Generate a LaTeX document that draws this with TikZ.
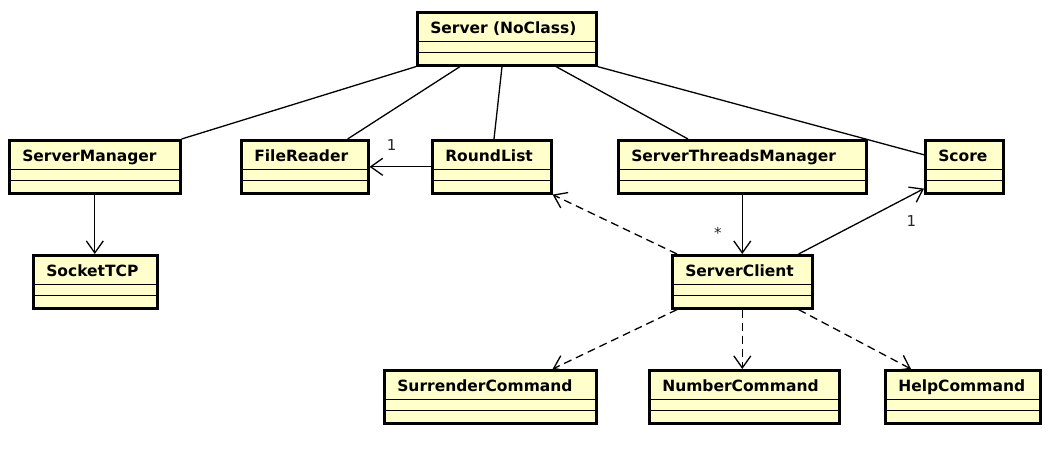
\documentclass[tikz,border=0pt]{standalone}
\usepackage{fontspec}
\setmainfont{DejaVu Sans}
\usetikzlibrary{arrows.meta}
\definecolor{classfill}{RGB}{255,255,204}

\begin{document}
\begin{tikzpicture}[
        x=1pt, y=-1pt,
        umlclass/.style={draw, line width=2.6pt, fill=classfill, anchor=north west,
            minimum height=53pt, inner xsep=13pt, inner ysep=0pt,
            text width=#1, text height=21pt, text depth=32pt, align=left,
            font=\fontsize{15.5}{18}\selectfont\bfseries,
            path picture={
                \draw[line width=1.1pt] ([yshift=13pt]path picture bounding box.south west) -- ([yshift=13pt]path picture bounding box.south east);
                \draw[line width=1.1pt] ([yshift=24pt]path picture bounding box.south west) -- ([yshift=24pt]path picture bounding box.south east);
            }},
        assoc/.style={draw, line width=1.3pt},
        navig/.style={assoc, -{Straight Barb[length=12pt, width=17pt, line width=1.3pt]}},
        dep/.style={navig, dash pattern=on 8pt off 5pt},
        mult/.style={font=\fontsize{15}{18}\selectfont, text=black!85, inner sep=0pt}
    ]
        \fill[white] (0,0) rectangle (1054,449);
        \useasboundingbox (0,0) rectangle (1054,449);

        \node[umlclass=153pt] (srv) at (416, 11) {Server (NoClass)};
        \node[umlclass=145pt] (smgr) at (8, 139) {ServerManager};
        \node[umlclass=101pt] (frdr) at (240, 139) {FileReader};
        \node[umlclass=93pt] (rlist) at (431, 139) {RoundList};
        \node[umlclass=222pt] (stm) at (617, 139) {ServerThreadsManager};
        \node[umlclass=52pt] (score) at (924, 139) {Score};
        \node[umlclass=98pt] (socket) at (32, 254) {SocketTCP};
        \node[umlclass=114pt] (sclient) at (671, 254) {ServerClient};
        \node[umlclass=186pt] (surr) at (383, 369) {SurrenderCommand};
        \node[umlclass=164pt] (numc) at (648, 369) {NumberCommand};
        \node[umlclass=129pt] (helpc) at (884, 369) {HelpCommand};

        \draw[assoc] (srv.south west) -- (smgr.north east);
        \draw[assoc] ([xshift=44pt]srv.south west) -- ([xshift=-22pt]frdr.north east);
        \draw[assoc] ([xshift=86pt]srv.south west) -- ([xshift=63pt]rlist.north west);
        \draw[assoc] ([xshift=140pt]srv.south west) -- ([xshift=71pt]stm.north west);
        \draw[assoc] (srv.south east) -- ([yshift=12pt]score.west);

        \draw[navig] (rlist.west) -- node[mult, pos=0.64, above=16pt] {1} (frdr.east);
        \draw[navig] (smgr.south) -- (smgr.south |- socket.north);
        \draw[navig] (stm.south) -- node[mult, pos=0.65, left=20pt] {*} (stm.south |- sclient.north);
        \draw[navig] ([xshift=-15pt]sclient.north east) -- node[mult, pos=0.9, below=20pt] {1} ([yshift=6pt]score.south west);

        \draw[dep] ([xshift=6pt]sclient.north west) -- (rlist.south east);
        \draw[dep] ([xshift=6pt]sclient.south west) -- ([xshift=-45pt]surr.north east);
        \draw[dep] (sclient.south) -- (sclient.south |- numc.north);
        \draw[dep] ([xshift=-15pt]sclient.south east) -- ([xshift=27pt]helpc.north west);
    \end{tikzpicture}
\end{document}
